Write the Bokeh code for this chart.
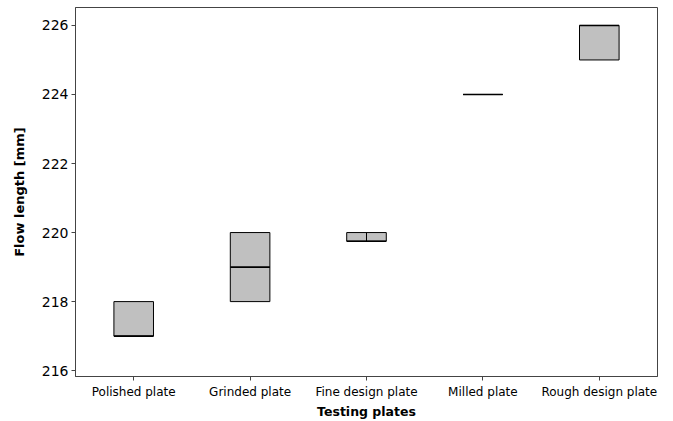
from bokeh.plotting import figure
from bokeh.models import Range1d, FactorRange, FixedTicker
from bokeh.embed import file_html
from bokeh.resources import INLINE

plates = ["Polished plate", "Grinded plate", "Fine design plate", "Milled plate", "Rough design plate"]
q1 = [217, 218, 219.75, 224, 225]
q3 = [218, 220, 220, 224, 226]
median = [217, 219, 219.75, 224, 226]
whisk_lo = [218, 220, 219.75, 224, 226]
whisk_hi = [218, 220, 220, 224, 226]
y_ticks = [216, 218, 220, 222, 224, 226]

p = figure(width=665, height=421, x_range=FactorRange(*plates, range_padding=0),
           y_range=Range1d(215.83, 226.52), output_backend="svg", toolbar_location=None,
           min_border_left=75, min_border_right=8, min_border_top=7, min_border_bottom=43)

p.vbar(x=plates, bottom=q1, top=q3, width=0.34, fill_color="#c0c0c0", line_color="black", line_width=1)
p.segment(x0=plates, x1=plates, y0=whisk_lo, y1=whisk_hi, line_color="black", line_width=1)
p.hbar(y=median, left=[(pl, -0.17) for pl in plates], right=[(pl, 0.17) for pl in plates],
       height=0.0, line_color="black", line_width=1.6)

p.xgrid.visible = False
p.ygrid.visible = False
p.outline_line_color = "#444444"
p.outline_line_width = 1

for ax in (p.xaxis[0], p.yaxis[0]):
    ax.axis_line_color = "#444444"
    ax.major_tick_line_color = "#444444"
    ax.major_tick_out = 4
    ax.major_tick_in = 0
    ax.minor_tick_line_color = None
    ax.major_label_text_font = "DejaVu Sans"
    ax.axis_label_text_font = "DejaVu Sans"
    ax.axis_label_text_font_style = "bold"
    ax.axis_label_text_color = "black"
    ax.major_label_text_color = "black"

p.yaxis[0].ticker = FixedTicker(ticks=y_ticks)
p.yaxis[0].major_label_text_font_size = "14px"
p.yaxis[0].axis_label = "Flow length [mm]"
p.yaxis[0].axis_label_text_font_size = "13px"
p.yaxis[0].axis_label_standoff = 12
p.yaxis[0].major_label_standoff = 3

p.xaxis[0].major_label_text_font_size = "12px"
p.xaxis[0].axis_label = "Testing plates"
p.xaxis[0].axis_label_text_font_size = "12.5px"
p.xaxis[0].axis_label_standoff = 2
p.xaxis[0].major_label_standoff = 4

open("out.html", "w").write(file_html(p, INLINE))
